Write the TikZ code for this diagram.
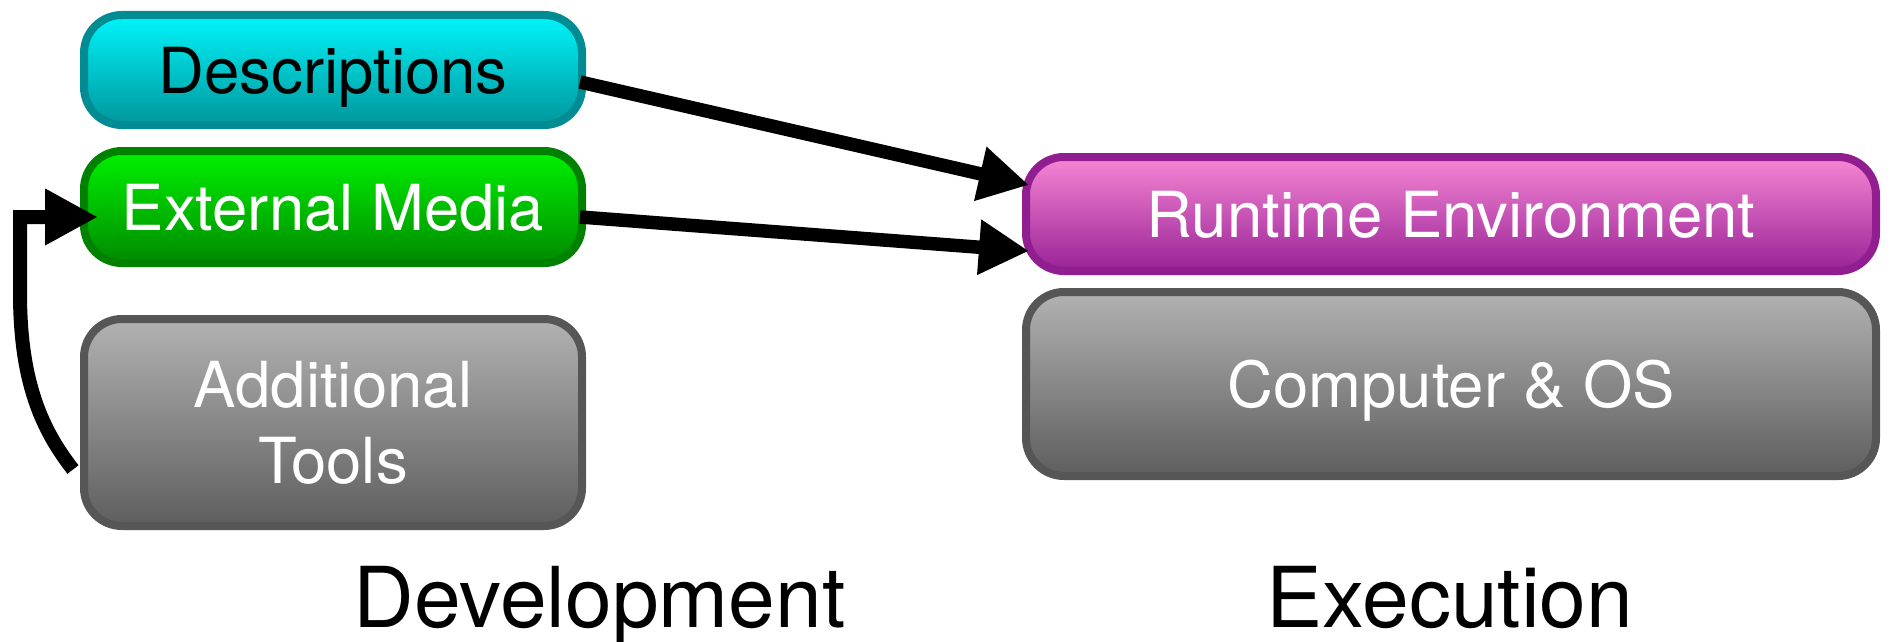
\documentclass[tikz,border=0pt]{standalone}
\usepackage{fontspec}
\setmainfont{TeX Gyre Heros}
\usetikzlibrary{arrows.meta,calc,shadows}
\definecolor{cyantop}{RGB}{0,245,250}
\definecolor{cyanbot}{RGB}{0,150,156}
\definecolor{cyanrim}{RGB}{0,140,146}
\definecolor{greentop}{RGB}{0,242,0}
\definecolor{greenbot}{RGB}{0,138,0}
\definecolor{greenrim}{RGB}{0,130,0}
\definecolor{graytop}{RGB}{178,178,178}
\definecolor{graybot}{RGB}{94,94,94}
\definecolor{grayrim}{RGB}{86,86,86}
\definecolor{pinktop}{RGB}{246,135,212}
\definecolor{pinkbot}{RGB}{152,34,150}
\definecolor{pinkrim}{RGB}{145,30,145}
\tikzset{
  box/.style={rectangle, rounded corners=38pt, line width=8pt, inner sep=0pt,
    text height=46pt, text depth=0pt,
    font=\fontsize{63.5}{76.5}\selectfont,
    drop shadow={opacity=0.12, shadow xshift=0pt, shadow yshift=-4pt}},
  descbox/.style={box, draw=cyanrim, top color=cyantop, bottom color=cyanbot, text=black},
  extbox/.style={box, draw=greenrim, top color=greentop, bottom color=greenbot, text=white},
  graybox/.style={box, draw=grayrim, top color=graytop, bottom color=graybot, text=white},
  runbox/.style={box, draw=pinkrim, top color=pinktop, bottom color=pinkbot, text=white},
  link/.style={line width=13.5pt, -{Triangle[length=50pt,width=52pt]}},
  fb/.style={line width=14pt, line join=miter, -{Triangle[length=53pt,width=53pt]}},
  caption/.style={anchor=base, font=\fontsize{84}{100}\selectfont, text=black, inner sep=0pt}
}
\begin{document}
\begin{tikzpicture}[x=1pt,y=-1pt]
\useasboundingbox (0,0) rectangle (1891,642);
\node[descbox, minimum width=498pt, minimum height=110pt] (desc) at (333,70) {Descriptions};
\node[extbox, minimum width=498pt, minimum height=112pt] (ext) at (333,207) {External Media};
\node[graybox, minimum width=498pt, minimum height=207pt, align=center, text height=122.5pt] (tools) at (333,422.5) {Additional\\Tools};
\node[runbox, minimum width=850pt, minimum height=114pt] (run) at (1451,214) {Runtime Environment};
\node[graybox, minimum width=850pt, minimum height=184pt, text height=47pt] (comp) at (1451,384) {Computer \& OS};
\node[caption] (dev) at (599.5,627) {Development};
\node[caption] (exe) at (1450,627) {Execution};
\draw[link] ($(desc.east)+(-6,12)$) -- ($(run.west)+(7,-29)$);
\draw[link] ($(ext.east)+(-6,10)$) -- ($(run.west)+(7,37)$);
\draw[fb] ($(tools.west)+(-7,47)$) .. controls (42,430) and (20,382) .. (20,293) -- (20,217) -- ($(ext.west)+(18,10)$);
\end{tikzpicture}
\end{document}
